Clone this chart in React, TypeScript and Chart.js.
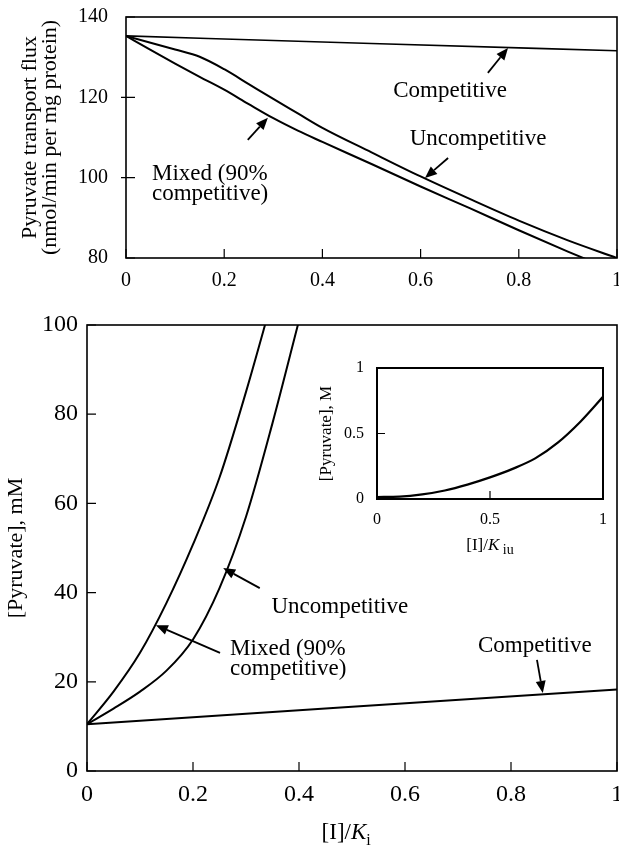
import React, { useEffect, useRef } from "react";
import { Chart, registerables } from "chart.js";

Chart.register(...registerables);

const FONT = "'Liberation Serif', 'Times New Roman', serif";

// ---------- Top panel: pyruvate transport flux ----------
const topX = [0, 0.05, 0.1, 0.15, 0.2, 0.25, 0.3, 0.35, 0.4, 0.5, 0.6, 0.7, 0.8, 0.9, 1.0];
const topUncompetitive = [135.3, 133.6, 131.9, 130.1, 127.0, 123.3, 119.6, 116.0, 112.4, 106.3, 100.3, 94.7, 89.3, 84.4, 80.0];
const topMixed = [135.3, 131.8, 128.4, 125.1, 121.9, 118.3, 114.8, 111.7, 108.9, 103.4, 97.8, 92.4, 86.9, 81.6, 76.5];
const topCompetitiveX = [0, 0.5, 1];
const topCompetitive = [135.3, 133.4, 131.6];
const topXTicks = [0, 0.2, 0.4, 0.6, 0.8, 1];
const topYTicks = [80, 100, 120, 140];

// ---------- Bottom panel: [Pyruvate] ----------
const bottomX = [0, 0.05, 0.1, 0.15, 0.2, 0.25, 0.3, 0.35, 0.4];
const bottomUncompetitive = [10.5, 14.0, 17.8, 22.5, 29.5, 41.0, 57.0, 78.0, 101.0];
const bottomMixedX = [0, 0.05, 0.1, 0.15, 0.2, 0.25, 0.3, 0.35];
const bottomMixed = [10.5, 17.8, 26.5, 37.7, 50.8, 65.8, 85.0, 106.0];
const bottomCompetitiveX = [0, 1];
const bottomCompetitive = [10.5, 18.3];
const bottomXTicks = [0, 0.2, 0.4, 0.6, 0.8, 1];
const bottomYTicks = [0, 20, 40, 60, 80, 100];

// ---------- Inset ----------
const insetX = [0, 0.1, 0.2, 0.3, 0.4, 0.5, 0.6, 0.7, 0.8, 0.9, 1.0];
const insetY = [0.015, 0.018, 0.035, 0.065, 0.11, 0.165, 0.23, 0.31, 0.43, 0.59, 0.78];
const insetXTicks = [0, 0.5, 1];
const insetYTicks = [0, 0.5, 1];

type Label = { text: string; x: number; y: number; align: CanvasTextAlign };
type Arrow = { from: [number, number]; to: [number, number] };
type Part = { text: string; font: string; dy: number };

const topLabels: Label[] = [
  { text: "Competitive", x: 0.66, y: 120.1, align: "center" },
  { text: "Uncompetitive", x: 0.717, y: 108.1, align: "center" },
  { text: "Mixed (90%", x: 0.053, y: 99.4, align: "left" },
  { text: "competitive)", x: 0.053, y: 94.4, align: "left" },
];
const topArrows: Arrow[] = [
  { from: [0.737, 126.1], to: [0.778, 132.3] },
  { from: [0.656, 104.9], to: [0.609, 99.9] },
  { from: [0.248, 109.4], to: [0.289, 114.9] },
];
const bottomLabels: Label[] = [
  { text: "Uncompetitive", x: 0.477, y: 35.4, align: "center" },
  { text: "Mixed (90%", x: 0.27, y: 26.0, align: "left" },
  { text: "competitive)", x: 0.27, y: 21.5, align: "left" },
  { text: "Competitive", x: 0.845, y: 26.7, align: "center" },
];
const bottomArrows: Arrow[] = [
  { from: [0.326, 41.0], to: [0.257, 45.5] },
  { from: [0.251, 26.5], to: [0.13, 32.7] },
  { from: [0.849, 24.9], to: [0.86, 17.5] },
];

const pts = (xs: number[], ys: number[]) => xs.map((x, i) => ({ x, y: ys[i] }));

function line(label: string, data: { x: number; y: number }[], width = 2) {
  return {
    label,
    data,
    borderColor: "#000",
    borderWidth: width,
    pointRadius: 0,
    fill: false,
    cubicInterpolationMode: "monotone" as const,
  };
}

function decor(opts: {
  id: string;
  frameWidth: number;
  tickIn: number;
  yTickOut: number;
  labels: Label[];
  arrows: Arrow[];
  labelFont: string;
  xTitle?: { x: number; below: number; parts: Part[] };
}) {
  return {
    id: opts.id,
    afterDraw(chart: any) {
      const { ctx, chartArea: a, scales } = chart;
      const xs = scales.x;
      const ys = scales.y;
      ctx.save();
      ctx.strokeStyle = "#000";
      ctx.fillStyle = "#000";
      ctx.lineWidth = opts.frameWidth;
      ctx.strokeRect(a.left, a.top, a.right - a.left, a.bottom - a.top);
      ctx.lineWidth = 1.2;
      ctx.beginPath();
      xs.ticks.forEach((t: any) => {
        const px = xs.getPixelForValue(t.value);
        ctx.moveTo(px, a.bottom);
        ctx.lineTo(px, a.bottom - opts.tickIn);
      });
      const yt = ys.ticks;
      yt.forEach((t: any, i: number) => {
        const py = ys.getPixelForValue(t.value);
        const out = i === 0 || i === yt.length - 1 ? 0 : opts.yTickOut;
        ctx.moveTo(a.left - out, py);
        ctx.lineTo(a.left + opts.tickIn, py);
      });
      ctx.stroke();

      ctx.font = opts.labelFont;
      ctx.textBaseline = "alphabetic";
      opts.labels.forEach((l) => {
        ctx.textAlign = l.align;
        ctx.fillText(l.text, xs.getPixelForValue(l.x), ys.getPixelForValue(l.y));
      });

      ctx.lineWidth = 1.8;
      opts.arrows.forEach((ar) => {
        const x1 = xs.getPixelForValue(ar.from[0]);
        const y1 = ys.getPixelForValue(ar.from[1]);
        const x2 = xs.getPixelForValue(ar.to[0]);
        const y2 = ys.getPixelForValue(ar.to[1]);
        const ang = Math.atan2(y2 - y1, x2 - x1);
        const L = 12;
        const W = 5;
        const bx = x2 - L * Math.cos(ang);
        const by = y2 - L * Math.sin(ang);
        ctx.beginPath();
        ctx.moveTo(x1, y1);
        ctx.lineTo(bx, by);
        ctx.stroke();
        ctx.beginPath();
        ctx.moveTo(x2, y2);
        ctx.lineTo(bx + W * Math.sin(ang), by - W * Math.cos(ang));
        ctx.lineTo(bx - W * Math.sin(ang), by + W * Math.cos(ang));
        ctx.closePath();
        ctx.fill();
      });

      if (opts.xTitle) {
        const t = opts.xTitle;
        let total = 0;
        t.parts.forEach((p) => {
          ctx.font = p.font;
          total += ctx.measureText(p.text).width;
        });
        let cx = xs.getPixelForValue(t.x) - total / 2;
        const base = a.bottom + t.below;
        ctx.textAlign = "left";
        t.parts.forEach((p) => {
          ctx.font = p.font;
          ctx.fillText(p.text, cx, base + p.dy);
          cx += ctx.measureText(p.text).width;
        });
      }
      ctx.restore();
    },
  };
}

function axis(
  min: number,
  max: number,
  tickVals: number[],
  size: number,
  pad: number,
  fitKey: "width" | "height",
  fitVal: number,
  title?: any
) {
  return {
    type: "linear" as const,
    min,
    max,
    grid: { display: false, drawTicks: true, tickLength: pad },
    border: { display: false },
    afterBuildTicks: (s: any) => {
      s.ticks = tickVals.map((v) => ({ value: v }));
    },
    afterFit: (s: any) => {
      s[fitKey] = fitVal;
    },
    ticks: {
      color: "#000",
      padding: 0,
      font: { family: FONT, size, lineHeight: 1 },
      callback: (v: any) => String(Number(v)),
    },
    title: title || { display: false },
  };
}

export default function App() {
  const topRef = useRef<HTMLCanvasElement>(null);
  const botRef = useRef<HTMLCanvasElement>(null);
  const insRef = useRef<HTMLCanvasElement>(null);

  useEffect(() => {
    const common = {
      responsive: false,
      animation: false as const,
      events: [] as any[],
      plugins: { legend: { display: false }, tooltip: { enabled: false } },
    };

    const top = new Chart(topRef.current!, {
      type: "line",
      data: {
        datasets: [
          line("Competitive", pts(topCompetitiveX, topCompetitive), 1.6),
          line("Uncompetitive", pts(topX, topUncompetitive)),
          line("Mixed (90% competitive)", pts(topX, topMixed)),
        ],
      },
      options: {
        ...common,
        layout: { padding: { left: 0, top: 17, right: 23, bottom: 2 } },
        scales: {
          x: axis(0, 1, topXTicks, 20, 13, "height", 40),
          y: axis(80, 140, topYTicks, 20, 18, "width", 126, {
            display: true,
            text: ["Pyruvate transport flux", "(nmol/min per mg protein)"],
            color: "#000",
            padding: { top: 20, bottom: 0 },
            font: { family: FONT, size: 22, lineHeight: "20px" },
          }),
        },
      } as any,
      plugins: [
        decor({
          id: "topDecor",
          frameWidth: 1.6,
          tickIn: 9,
          yTickOut: 5,
          labels: topLabels,
          arrows: topArrows,
          labelFont: `23px ${FONT}`,
        }),
      ],
    });

    const bottom = new Chart(botRef.current!, {
      type: "line",
      data: {
        datasets: [
          line("Competitive", pts(bottomCompetitiveX, bottomCompetitive)),
          line("Uncompetitive", pts(bottomX, bottomUncompetitive)),
          line("Mixed (90% competitive)", pts(bottomMixedX, bottomMixed)),
        ],
      },
      options: {
        ...common,
        layout: { padding: { left: 0, top: 25, right: 23, bottom: 7 } },
        scales: {
          x: axis(0, 1, bottomXTicks, 24, 12, "height", 70),
          y: axis(0, 100, bottomYTicks, 24, 9, "width", 87, {
            display: true,
            text: "[Pyruvate], mM",
            color: "#000",
            padding: { top: 5, bottom: 0 },
            font: { family: FONT, size: 22, lineHeight: 1 },
          }),
        },
      } as any,
      plugins: [
        decor({
          id: "bottomDecor",
          frameWidth: 1.6,
          tickIn: 9,
          yTickOut: 0,
          labels: bottomLabels,
          arrows: bottomArrows,
          labelFont: `23px ${FONT}`,
          xTitle: {
            x: 0.489,
            below: 68,
            parts: [
              { text: "[I]/", font: `23px ${FONT}`, dy: 0 },
              { text: "K", font: `italic 23px ${FONT}`, dy: 0 },
              { text: "i", font: `16px ${FONT}`, dy: 6 },
            ],
          },
        }),
      ],
    });

    const inset = new Chart(insRef.current!, {
      type: "line",
      data: {
        datasets: [line("Uncompetitive", pts(insetX, insetY), 2.2)],
      },
      options: {
        ...common,
        layout: { padding: { left: 0, top: 13, right: 16, bottom: 6 } },
        scales: {
          x: axis(0, 1, insetXTicks, 16, 13, "height", 55),
          y: axis(0, 1, insetYTicks, 16, 13, "width", 62, {
            display: true,
            text: "[Pyruvate], M",
            color: "#000",
            padding: { top: 3.5, bottom: 0 },
            font: { family: FONT, size: 17, lineHeight: 1 },
          }),
        },
      } as any,
      plugins: [
        decor({
          id: "insetDecor",
          frameWidth: 2,
          tickIn: 8,
          yTickOut: 0,
          labels: [],
          arrows: [],
          labelFont: `16px ${FONT}`,
          xTitle: {
            x: 0.5,
            below: 51,
            parts: [
              { text: "[I]/", font: `17px ${FONT}`, dy: 0 },
              { text: "K", font: `italic 17px ${FONT}`, dy: 0 },
              { text: " iu", font: `14px ${FONT}`, dy: 4 },
            ],
          },
        }),
      ],
    });

    return () => {
      top.destroy();
      bottom.destroy();
      inset.destroy();
    };
  }, []);

  return (
    <div
      style={{
        position: "absolute",
        left: 0,
        top: 0,
        width: 619,
        height: 848,
        overflow: "hidden",
        background: "#fff",
      }}
    >
      <canvas
        ref={topRef}
        width={640}
        height={300}
        style={{ position: "absolute", left: 0, top: 0, width: 640, height: 300 }}
      />
      <canvas
        ref={botRef}
        width={640}
        height={548}
        style={{ position: "absolute", left: 0, top: 300, width: 640, height: 548 }}
      />
      <canvas
        ref={insRef}
        width={304}
        height={205}
        style={{ position: "absolute", left: 315, top: 355, width: 304, height: 205 }}
      />
    </div>
  );
}
